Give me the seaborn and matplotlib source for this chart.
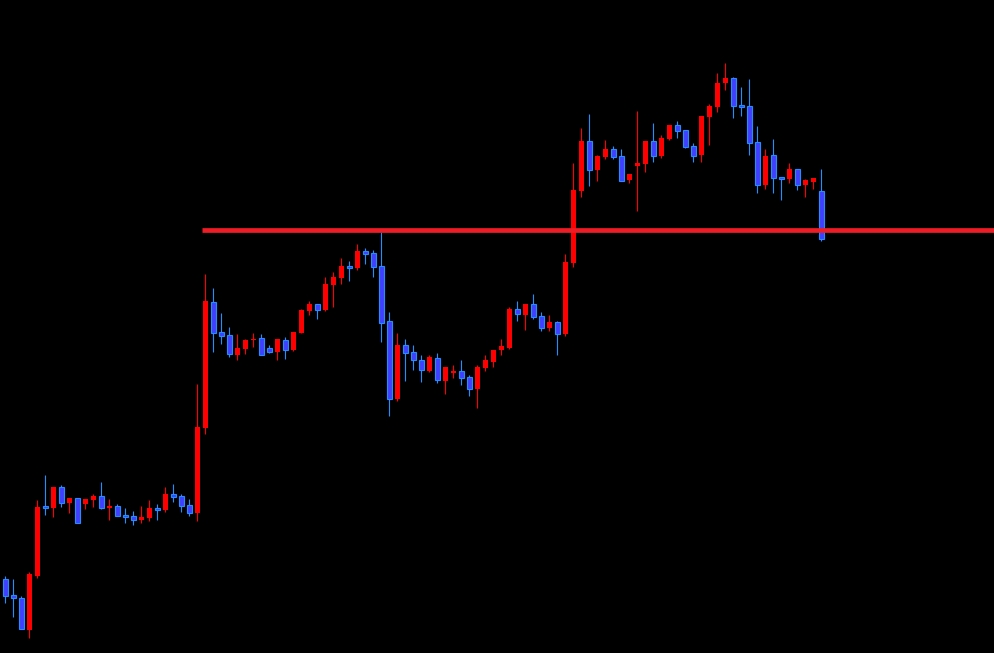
import numpy as np
import pandas as pd
import matplotlib
matplotlib.use("Agg")
import matplotlib.pyplot as plt
import seaborn as sns

# candle data (price units)
opens = [74.0, 58.0, 55.0, 23.3, 77.3, 147.0, 145.3, 166.0, 150.3, 154.7,
         149.3, 153.3, 157.0, 145.3, 147.0, 137.7, 136.7, 133.3, 135.3, 145.0,
         143.3, 159.0, 157.0, 148.0, 140.3, 225.3, 351.0, 321.0, 318.0, 298.3,
         304.3, 313.0, 315.0, 305.0, 301.3, 313.0, 303.3, 320.3, 342.3, 349.0,
         342.7, 368.3, 375.3, 387.0, 385.3, 402.0, 400.0, 387.0, 332.0, 254.3,
         308.0, 301.0, 293.0, 282.3, 295.0, 272.3, 280.3, 282.0, 276.0, 264.3,
         285.3, 291.3, 303.0, 305.0, 344.0, 338.0, 349.0, 337.0, 325.0, 331.0,
         319.0, 390.0, 462.0, 512.0, 483.0, 496.0, 504.0, 497.0, 473.0, 487.0,
         489.0, 512.0, 497.0, 514.0, 528.0, 523.0, 507.0, 498.0, 536.0, 546.0,
         570.0, 575.0, 548.0, 547.0, 511.0, 468.3, 498.0, 476.0, 474.3, 484.0,
         468.3, 471.0, 462.0]
highs = [77.0, 74.0, 57.0, 81.0, 153.0, 178.0, 166.0, 168.0, 155.0, 154.7,
         154.0, 159.3, 171.0, 154.0, 148.7, 145.0, 142.0, 147.0, 153.0, 149.0,
         166.0, 169.0, 159.0, 154.0, 269.0, 379.0, 365.0, 340.0, 326.0, 319.0,
         314.0, 320.0, 319.0, 308.0, 314.0, 316.0, 321.0, 344.0, 352.0, 349.0,
         376.0, 381.0, 395.0, 392.0, 409.0, 405.0, 403.0, 421.0, 341.0, 320.3,
         314.0, 308.0, 298.0, 298.0, 300.0, 286.0, 288.0, 293.0, 278.0, 288.0,
         298.0, 303.0, 314.0, 346.3, 352.0, 349.0, 359.0, 341.0, 338.0, 332.0,
         399.0, 490.0, 525.0, 539.0, 498.0, 513.0, 507.0, 504.0, 479.0, 542.0,
         512.0, 530.0, 518.0, 528.0, 532.0, 523.0, 510.0, 537.0, 549.0, 580.0,
         590.0, 576.0, 566.0, 574.0, 527.0, 504.0, 514.0, 476.0, 490.0, 484.0,
         474.0, 475.0, 484.0]
lows = [50.3, 36.3, 23.7, 15.3, 75.3, 138.3, 136.3, 146.3, 140.3, 130.3,
        144.3, 146.3, 144.3, 133.3, 137.3, 130.3, 128.3, 130.3, 132.3, 133.3,
        141.3, 151.0, 141.3, 137.3, 132.3, 219.3, 301.3, 309.3, 296.3, 293.3,
        299.3, 306.3, 298.3, 300.3, 293.3, 294.3, 302.3, 320.3, 338.3, 334.3,
        342.3, 346.3, 369.3, 372.3, 383.3, 389.3, 376.3, 311.3, 237.3, 252.3,
        272.3, 283.3, 271.3, 281.3, 270.3, 259.3, 275.3, 268.3, 257.3, 245.3,
        282.3, 286.3, 298.0, 303.7, 332.3, 323.0, 334.0, 322.3, 322.0, 298.0,
        317.0, 386.3, 456.0, 467.0, 472.0, 494.0, 494.0, 472.3, 470.0, 442.0,
        481.0, 491.0, 495.0, 513.0, 515.0, 505.0, 491.0, 491.0, 508.0, 541.0,
        563.0, 535.0, 537.0, 498.0, 460.3, 464.3, 460.3, 453.3, 470.3, 463.3,
        456.3, 464.3, 412.3]
closes = [57.3, 54.7, 23.7, 79.0, 146.0, 145.3, 166.0, 150.3, 155.0, 130.3,
          154.0, 157.0, 145.3, 147.0, 137.3, 136.3, 133.3, 136.0, 145.0, 143.3,
          159.0, 156.3, 147.3, 140.3, 226.0, 352.0, 320.3, 317.3, 299.3, 305.0,
          313.0, 314.3, 298.3, 301.3, 314.0, 303.3, 321.0, 343.0, 349.0, 343.3,
          369.0, 376.0, 387.0, 385.3, 402.0, 399.3, 386.3, 330.3, 254.3, 308.0,
          300.3, 292.7, 282.7, 296.0, 273.3, 286.0, 282.3, 275.3, 264.3, 286.0,
          293.0, 303.0, 307.0, 344.0, 339.3, 349.0, 336.3, 325.3, 331.0, 319.3,
          391.0, 463.0, 512.0, 483.0, 497.0, 504.0, 496.0, 472.3, 479.0, 490.0,
          512.0, 497.0, 515.0, 528.0, 522.0, 506.0, 497.0, 537.0, 547.0, 570.0,
          575.0, 547.3, 546.0, 510.3, 468.3, 497.0, 475.3, 474.3, 484.0, 468.3,
          473.0, 475.0, 414.3]

level = 422.7        # horizontal resistance/support line
level_start = 24.6   # candle index where the line starts

df = pd.DataFrame({"open": opens, "high": highs, "low": lows, "close": closes})
df["x"] = np.arange(len(df))
df["bull"] = df["close"] >= df["open"]

sns.set_theme(style="dark", rc={"axes.facecolor": "black", "figure.facecolor": "black"})

fig = plt.figure(figsize=(9.94, 6.53), dpi=100)
ax = fig.add_axes([0, 0, 1, 1])

up = df[df["bull"]]
dn = df[~df["bull"]]

# wicks
ax.vlines(up["x"], up["low"], up["high"], color="#ff0000", linewidth=0.8, zorder=2)
ax.vlines(dn["x"], dn["low"], dn["high"], color="#1e90ff", linewidth=0.8, zorder=2)

# bodies
ax.bar(up["x"], up["close"] - up["open"], bottom=up["open"], width=0.6,
       color="#ff0000", linewidth=0, zorder=3)
ax.bar(dn["x"], dn["open"] - dn["close"], bottom=dn["close"], width=0.6,
       color="#4040ff", edgecolor="#1e90ff", linewidth=0.8, zorder=3)

ax.hlines(level, level_start, 130, color="#ee1c25", linewidth=3.4, zorder=4)

ax.set_xlim(-0.66, 123.6)
ax.set_ylim(0, 653)
ax.set_axis_off()

fig.savefig("out.png", dpi=100, facecolor="black")
